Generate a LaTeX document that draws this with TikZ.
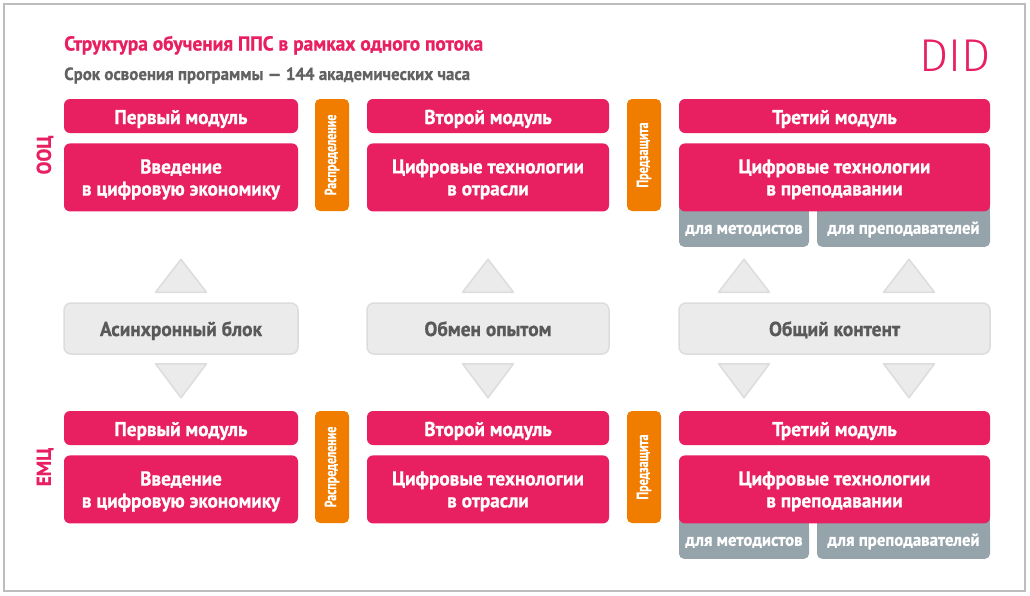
\documentclass[tikz,border=0pt]{standalone}
\usepackage{fontspec}
\setmainfont{PT Sans}[FakeStretch=0.96,BoldFeatures={FakeBold=0.8}]
\newfontfamily\narrowfont{PT Sans}[FakeStretch=0.75,BoldFeatures={FakeBold=0.8}]
\newfontfamily\didfont{Fira Sans Light}
\usepackage{tikz}
\usetikzlibrary{positioning,calc,backgrounds}
\definecolor{didred}{HTML}{E81F60}
\definecolor{didorange}{HTML}{F07D00}
\definecolor{didgray}{HTML}{95A3AB}
\definecolor{blockfill}{HTML}{EBEBEB}
\definecolor{blockline}{HTML}{DCDCDC}
\definecolor{blocktext}{HTML}{595959}
\definecolor{subtext}{HTML}{626262}
\definecolor{framegray}{HTML}{BDBDBD}
\newcommand{\mkup}[2]{\draw[tri] ($(#1.north)+(#2-25.5,-10)$) -- ($(#1.north)+(#2+25.5,-10)$) -- ($(#1.north)+(#2,-43)$) -- cycle;}
\newcommand{\mkdown}[2]{\draw[tri] ($(#1.south)+(#2-25.5,9)$) -- ($(#1.south)+(#2+25.5,9)$) -- ($(#1.south)+(#2,43)$) -- cycle;}

\begin{document}
\begin{tikzpicture}[x=1pt,y=-1pt,
    modhead/.style={fill=didred,text=white,rounded corners=6pt,inner sep=0pt,minimum height=34pt,text height=16pt,text depth=0pt,font=\fontsize{20}{22}\selectfont\bfseries},
    modbody/.style={fill=didred,text=white,rounded corners=6pt,inner sep=0pt,minimum height=68pt,text depth=0pt,align=center,font=\fontsize{20}{22}\selectfont\bfseries},
    stagebox/.style={fill=didorange,text=white,rounded corners=5pt,inner sep=0pt,rotate=90,minimum width=112pt,minimum height=34pt,font=\narrowfont\fontsize{16}{18}\selectfont\bfseries},
    subbox/.style={fill=didgray,text=white,rounded corners=5pt,inner sep=0pt,minimum height=35pt,text height=9pt,text depth=0pt,font=\fontsize{17.5}{18}\selectfont\bfseries},
    block/.style={fill=blockfill,draw=blockline,line width=1.5pt,rounded corners=7pt,inner sep=0pt,minimum height=51pt,text height=15pt,text depth=0pt,text=blocktext,font=\fontsize{20.2}{22}\selectfont\bfseries},
    tri/.style={fill=blockfill,draw=blockline,line width=1.5pt,line join=round},
    side/.style={rotate=90,inner sep=0pt,text=didred,font=\fontsize{20}{22}\selectfont\bfseries}
    ]
    \useasboundingbox (0,0) rectangle (1030,595);
    \draw[framegray,line width=1.5pt] (4,4) rectangle (1025,591);

    % header
    \node[anchor=base west,inner sep=0pt,text=didred,font=\fontsize{20.2}{24}\selectfont\bfseries] (title) at (64,50.5) {Структура обучения ППС в рамках одного потока};
    \node[anchor=base west,inner sep=0pt,text=subtext,font=\fontsize{17.6}{22}\selectfont\bfseries] (term) at (64,80) {Срок освоения программы — 144 академических часа};
    \node[anchor=base east,inner sep=0pt,text=didred,font=\didfont\fontsize{46}{46}\selectfont] (logo) at (991,71) {DID};

    % two streams
    \foreach \r/\dy/\lab in {a/0/ООЦ, b/312/ЕМЦ} {
      \node[side] (side\r) at (45,155+\dy) {\lab};
      \node[modhead,minimum width=234pt] (head1\r) at (181,116+\dy) {Первый модуль};
      \node[modbody,minimum width=234pt,below=10pt of head1\r] (body1\r) {Введение\\в цифровую экономику};
      \node[stagebox] (dist\r) at (332,155+\dy) {Распределение};
      \node[modhead,minimum width=242pt] (head2\r) at (488,116+\dy) {Второй модуль};
      \node[modbody,minimum width=242pt,below=10pt of head2\r] (body2\r) {Цифровые технологии\\в отрасли};
      \node[stagebox] (pre\r) at (644,155+\dy) {Предзащита};
      \node[modhead,minimum width=311pt] (head3\r) at (834.5,116+\dy) {Третий модуль};
      \node[modbody,minimum width=311pt,below=10pt of head3\r] (body3\r) {Цифровые технологии\\в преподавании};
      \node[subbox,minimum width=130pt,anchor=north west] (meth\r) at (body3\r.south west) {для методистов};
      \node[subbox,minimum width=173pt,anchor=north east] (teach\r) at (body3\r.south east) {для преподавателей};
      \begin{scope}[on background layer]
        \fill[didgray] ([yshift=10pt]meth\r.north west) rectangle (meth\r.east);
        \fill[didgray] ([yshift=10pt]teach\r.north west) rectangle (teach\r.east);
      \end{scope}
    }

    % shared blocks
    \node[block,minimum width=234pt] (async) at (181,328.5) {Асинхронный блок};
    \node[block,minimum width=242pt] (share) at (488,328.5) {Обмен опытом};
    \node[block,minimum width=311pt] (common) at (834.5,328.5) {Общий контент};
    \mkup{async}{0} \mkdown{async}{0}
    \mkup{share}{0} \mkdown{share}{0}
    \mkup{common}{-90.5} \mkdown{common}{-90.5}
    \mkup{common}{74.5} \mkdown{common}{74.5}
  \end{tikzpicture}
\end{document}
